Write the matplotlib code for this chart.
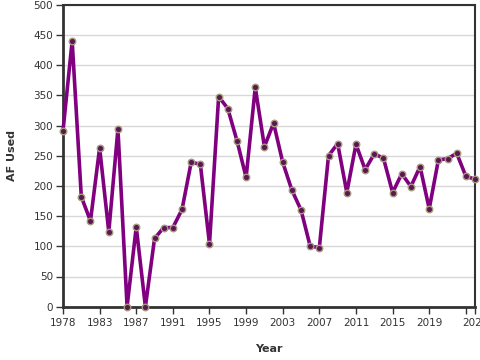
import matplotlib
matplotlib.use("Agg")
import matplotlib.pyplot as plt

# data (1982 not in the series)
years = list(range(1978, 1982)) + list(range(1983, 2025))
af_used = [291, 440, 182, 142, 263, 124, 294, 0, 132, 0,
           113, 131, 131, 161, 239, 236, 104, 348, 328, 275,
           214, 363, 265, 304, 239, 193, 160, 100, 98, 250,
           270, 189, 269, 227, 253, 246, 189, 220, 199, 232,
           162, 243, 245, 254, 216, 211]

tick_idx = list(range(0, 45, 4)) + [45]
tick_labels = [str(years[i]) for i in tick_idx]
tick_labels[-2] = ""  # hidden label next to the last one

yticks = list(range(0, 501, 50))

plt.rcParams['font.family'] = ['DejaVu Sans']
fig = plt.figure(figsize=(4.8, 3.6), dpi=100)
ax = fig.add_axes([63 / 480, 53.3 / 360, 412 / 480, 302 / 360])

xs = list(range(len(years)))
ax.plot(xs, af_used, color='#800080', lw=2.6, zorder=3, clip_on=False)
ax.scatter(xs, af_used, s=22, color='#5a1850', edgecolors='#a89a80',
           linewidths=1.0, zorder=4, clip_on=False)

ax.set_xlim(0, 45)
ax.set_ylim(0, 500)
ax.set_yticks(yticks)
ax.set_xticks(tick_idx)
ax.set_xticklabels(tick_labels)
ax.yaxis.grid(True, color='#d8d8d8', lw=1)
ax.set_axisbelow(True)

for side in ['left', 'bottom']:
    ax.spines[side].set_linewidth(2)
    ax.spines[side].set_color('#333333')
for side in ['top', 'right']:
    ax.spines[side].set_linewidth(1.5)
    ax.spines[side].set_color('#333333')

ax.tick_params(axis='both', labelsize=7.5, colors='#333333', length=5, width=1)
ax.tick_params(axis='x', pad=3)
ax.tick_params(axis='y', pad=2)

ax.set_xlabel('Year', fontsize=8, fontweight='bold', color='#333333', labelpad=12)
ax.set_ylabel('AF Used', fontsize=8, fontweight='bold', color='#333333', labelpad=12)

fig.savefig('out.png', dpi=100)
